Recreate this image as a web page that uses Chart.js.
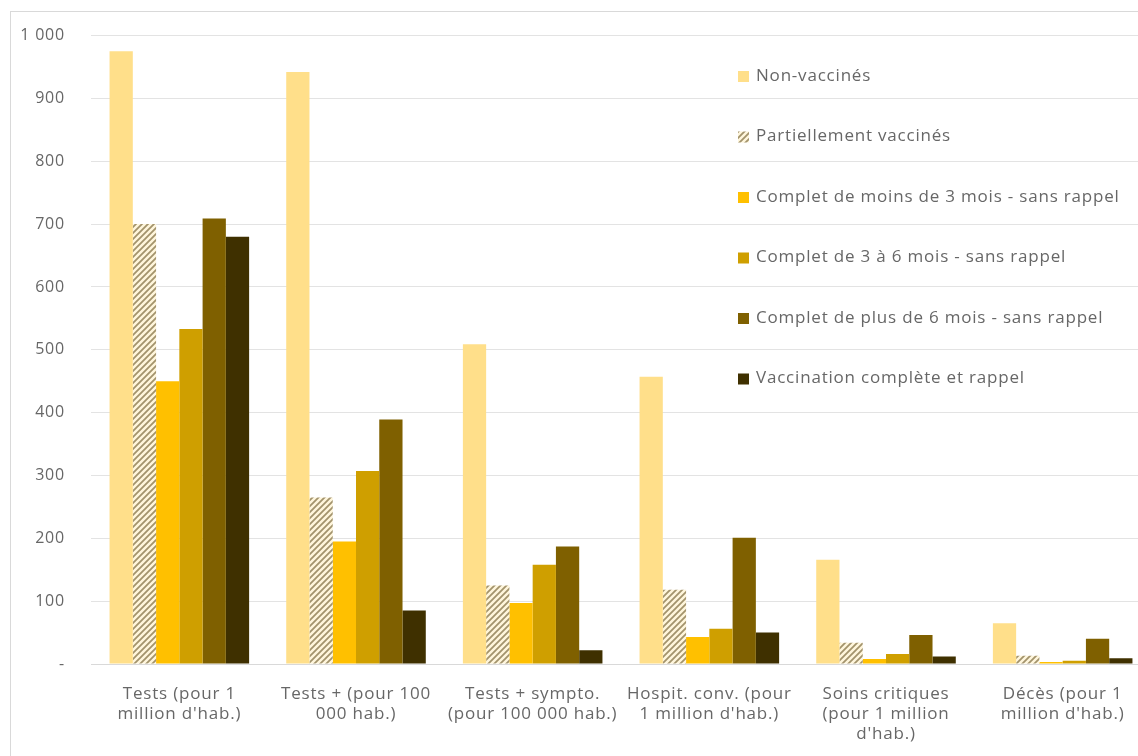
<!DOCTYPE html>
<html>
<head>
<meta charset="utf-8">
<script src="https://cdn.jsdelivr.net/npm/chart.js@4"></script>
<style>
  html, body { margin: 0; padding: 0; background: #fff; overflow: hidden; }
  #wrap { width: 1160px; height: 780px; }
</style>
</head>
<body>
<div id="wrap"><canvas id="c" width="1160" height="780"></canvas></div>
<script>
// Indicateurs par statut vaccinal
const categories = [
  ["Tests (pour 1", "million d'hab.)"],
  ["Tests + (pour 100", "000 hab.)"],
  ["Tests + sympto.", "(pour 100 000 hab.)"],
  ["Hospit. conv. (pour", "1 million d'hab.)"],
  ["Soins critiques", "(pour 1 million", "d'hab.)"],
  ["Décès (pour 1", "million d'hab.)"]
];
const seriesNames = [
  "Non-vaccinés",
  "Partiellement vaccinés",
  "Complet de moins de 3 mois - sans rappel",
  "Complet de 3 à 6 mois - sans rappel",
  "Complet de plus de 6 mois - sans rappel",
  "Vaccination complète et rappel"
];
const nonVaccines     = [975, 942, 509, 457, 166, 65];
const partiellement   = [700, 265, 125, 118, 34, 13];
const moinsDe3Mois    = [450, 195, 97, 43, 8, 3];
const de3a6Mois       = [533, 307, 158, 56, 16, 5];
const plusDe6Mois     = [709, 389, 187, 201, 46, 40];
const completRappel   = [680, 85, 22, 50, 12, 9];
const yTicks = [0, 100, 200, 300, 400, 500, 600, 700, 800, 900, 1000];

const FONT = "'Open Sans', sans-serif";
const TEXT = '#676767';
const SPACING = '0.8px';

// hachures montantes pour "Partiellement vaccinés"
function hatch() {
  const s = 6;
  const cv = document.createElement('canvas');
  cv.width = s; cv.height = s;
  const g = cv.getContext('2d');
  g.fillStyle = '#fff6dc';
  g.fillRect(0, 0, s, s);
  g.strokeStyle = '#a3936c';
  g.lineWidth = 1.8;
  g.beginPath();
  g.moveTo(0, s); g.lineTo(s, 0);
  g.moveTo(-s / 2, s / 2); g.lineTo(s / 2, -s / 2);
  g.moveTo(s / 2, s * 1.5); g.lineTo(s * 1.5, s / 2);
  g.stroke();
  return g.createPattern(cv, 'repeat');
}

const colors = ['#ffdf8a', hatch(), '#ffc000', '#cf9f00', '#7f6000', '#3f3000'];
const values = [nonVaccines, partiellement, moinsDe3Mois, de3a6Mois, plusDe6Mois, completRappel];

const frame = {
  id: 'frame',
  beforeLayout(chart) { chart.ctx.letterSpacing = SPACING; },
  beforeDraw(chart) {
    const ctx = chart.ctx;
    ctx.letterSpacing = SPACING;
    ctx.save();
    ctx.fillStyle = '#fff';
    ctx.fillRect(0, 0, chart.width, chart.height);
    ctx.strokeStyle = '#d9d9d9';
    ctx.lineWidth = 1;
    ctx.strokeRect(10.5, 11.5, 3000, 3000);
    ctx.restore();
  }
};

const sideLegend = {
  id: 'sideLegend',
  afterDatasetsDraw(chart) {
    const ctx = chart.ctx;
    ctx.save();
    ctx.font = '17px ' + FONT;
    ctx.textBaseline = 'middle';
    chart.data.datasets.forEach((ds, i) => {
      const y = 76 + i * 60.5;
      ctx.fillStyle = ds.backgroundColor;
      ctx.fillRect(738, y - 5, 11, 11);
      ctx.fillStyle = TEXT;
      ctx.fillText(ds.label, 756, y);
    });
    ctx.restore();
  }
};

new Chart(document.getElementById('c'), {
  type: 'bar',
  data: {
    labels: categories,
    datasets: seriesNames.map((name, i) => ({
      label: name,
      data: values[i],
      backgroundColor: colors[i],
      borderWidth: 0,
      barPercentage: 1,
      categoryPercentage: 0.79
    }))
  },
  options: {
    responsive: false,
    animation: false,
    layout: { padding: { top: 32, right: 9, bottom: 0, left: 0 } },
    plugins: { legend: { display: false }, tooltip: { enabled: false } },
    scales: {
      x: {
        grid: { display: false },
        border: { display: true, color: '#d9d9d9' },
        ticks: {
          color: TEXT,
          font: { family: FONT, size: 17, lineHeight: 1.18 },
          padding: 12,
          maxRotation: 0,
          autoSkip: false
        },
        afterFit(scale) { scale.height = 116; }
      },
      y: {
        min: 0,
        max: 1000,
        afterBuildTicks(scale) { scale.ticks = yTicks.map(v => ({ value: v })); },
        grid: { color: '#e3e3e3', drawTicks: false },
        border: { display: false },
        ticks: {
          color: TEXT,
          font: { family: FONT, size: 16 },
          padding: 26,
          callback: v => v === 0 ? '-' : v >= 1000 ? Math.floor(v / 1000) + ' ' + String(v % 1000).padStart(3, '0') : String(v)
        },
        afterFit(scale) { scale.width = 91; }
      }
    }
  },
  plugins: [frame, sideLegend]
});
</script>
</body>
</html>
